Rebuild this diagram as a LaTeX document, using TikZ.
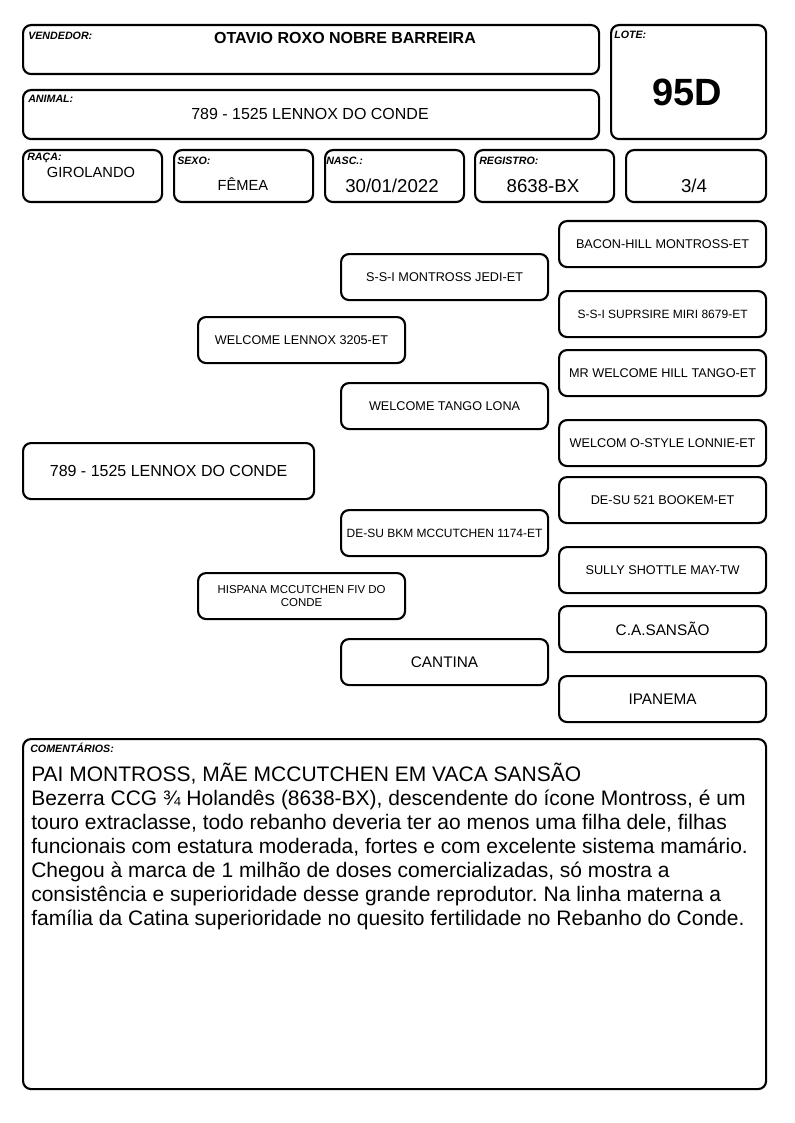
\documentclass[tikz,border=0pt]{standalone}
\usepackage{fontspec}
\setmainfont{Liberation Sans}
\usetikzlibrary{positioning}
\newdimen\pxu
\pxu=0.75pt
\newcommand{\fs}[1]{\fontsize{#1}{1.2\dimexpr #1pt\relax}\selectfont}
\frenchspacing

\begin{document}
\begin{tikzpicture}[
        x=0.75pt, y=-0.75pt,
        card/.style={
                draw, line width=1.6pt, rounded corners=6pt,
                inner sep=0pt, anchor=north west
            },
        tag/.style={anchor=west, inner sep=0pt, font=\fs{8}\bfseries\itshape},
        value/.style={inner sep=0pt, font=\fs{11}},
        bigvalue/.style={inner sep=0pt, font=\fs{14}},
        pedbox/.style={
                card, align=center,
                minimum width=207\pxu, minimum height=46\pxu,
                font=\fs{9.5}
            },
        pedsmall/.style={pedbox, font=\fs{9}},
        pedbig/.style={pedbox, font=\fs{11.5}}
    ]
    \useasboundingbox (0,0) rectangle (794,1123);

    % ===== Header =====
    \node[card, minimum width=576\pxu, minimum height=49\pxu] (vend) at (22,24) {};
    \node[tag] (vendtag) at (28,36) {VENDEDOR:};
    \node[inner sep=0pt, font=\fs{12}\bfseries] (vendname) at (345,38) {OTAVIO ROXO NOBRE BARREIRA};

    \node[card, minimum width=155\pxu, minimum height=114\pxu] (lote) at (610,24) {};
    \node[tag] (lotetag) at (614,35) {LOTE:};
    \node[inner sep=0pt, font=\fs{28.5}\bfseries] (lotenum) at (687,92) {95D};

    \node[card, minimum width=576\pxu, minimum height=49\pxu] (animal) at (22,89) {};
    \node[tag] (animaltag) at (28,99) {ANIMAL:};
    \node[inner sep=0pt, font=\fs{12}] (animalname) at (310,114) {789 - 1525 LENNOX DO CONDE};

    % ===== Data row =====
    \node[card, minimum width=139\pxu, minimum height=52\pxu] (raca) at (22,149) {};
    \node[card, minimum width=139\pxu, minimum height=52\pxu] (sexo) at (173,149) {};
    \node[card, minimum width=139\pxu, minimum height=52\pxu] (nasc) at (324,149) {};
    \node[card, minimum width=139\pxu, minimum height=52\pxu] (registro) at (474,149) {};
    \node[card, minimum width=140\pxu, minimum height=52\pxu] (grau) at (625,149) {};

    \node[tag] (racatag) at (27,158) {RAÇA:};
    \node[tag] (sexotag) at (177,161) {SEXO:};
    \node[tag] (nasctag) at (326,161) {NASC.:};
    \node[tag] (registrotag) at (479,161) {REGISTRO:};

    \node[value] (racaval) at (91,172) {GIROLANDO};
    \node[value] (sexoval) at (243,184) {FÊMEA};
    \node[bigvalue] (nascval) at (392,186) {30/01/2022};
    \node[bigvalue] (registroval) at (543,186) {8638-BX};
    \node[bigvalue] (grauval) at (694,186) {3/4};

    % ===== Pedigree =====
    \node[pedbox, minimum width=291\pxu, minimum height=56\pxu, font=\fs{12}] (proband) at (22,442) {789 - 1525 LENNOX DO CONDE};

    % parents
    \node[pedbox] (sire) at (197,316) {WELCOME LENNOX 3205-ET};
    \node[pedbox, font=\fs{8.6}] (dam) at (197,572) {HISPANA MCCUTCHEN FIV DO\\CONDE};

    % grandparents
    \node[pedbox] (siresire) at (340,253) {S-S-I MONTROSS JEDI-ET};
    \node[pedbox] (siredam) at (340,382) {WELCOME TANGO LONA};
    \node[pedsmall] (damsire) at (340,509) {DE-SU BKM MCCUTCHEN 1174-ET};
    \node[pedbig] (damdam) at (340,638) {CANTINA};

    % great-grandparents
    \node[pedbox] (sss) at (558,220) {BACON-HILL MONTROSS-ET};
    \node[pedsmall] (ssd) at (558,290) {S-S-I SUPRSIRE MIRI 8679-ET};
    \node[pedbox] (sds) at (558,349) {MR WELCOME HILL TANGO-ET};
    \node[pedbox] (sdd) at (558,419) {WELCOM O-STYLE LONNIE-ET};
    \node[pedbox] (dss) at (558,476) {DE-SU 521 BOOKEM-ET};
    \node[pedbox] (dsd) at (558,546) {SULLY SHOTTLE MAY-TW};
    \node[pedbig] (dds) at (558,605) {C.A.SANSÃO};
    \node[pedbig] (ddd) at (558,675) {IPANEMA};

    % ===== Comments =====
    \node[card, minimum width=743\pxu, minimum height=350\pxu] (coment) at (22,738) {};
    \node[tag] (comenttag) at (30,748) {COMENTÁRIOS:};
    \node[anchor=north west, inner sep=0pt, align=left,
        font=\fontsize{15.75}{18}\selectfont] (comenttext) at (31,763) {%
        PAI MONTROSS, MÃE MCCUTCHEN EM VACA SANSÃO\\
        Bezerra CCG ¾ Holandês (8638-BX), descendente do ícone Montross, é um\\
        touro extraclasse, todo rebanho deveria ter ao menos uma filha dele, filhas\\
        funcionais com estatura moderada, fortes e com excelente sistema mamário.\\
        Chegou à marca de 1 milhão de doses comercializadas, só mostra a\\
        consistência e superioridade desse grande reprodutor. Na linha materna a\\
        família da Catina superioridade no quesito fertilidade no Rebanho do Conde.};

\end{tikzpicture}
\end{document}
